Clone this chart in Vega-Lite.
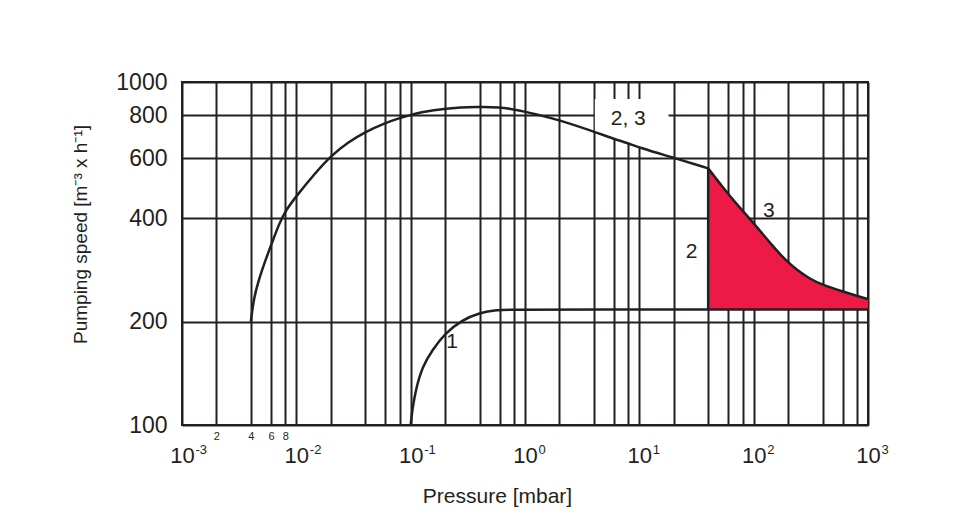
{
  "$schema": "https://vega.github.io/schema/vega-lite/v6.json",
  "width": 686,
  "height": 343,
  "autosize": {"type": "none"},
  "padding": {"left": 182, "top": 82, "right": 94, "bottom": 105},
  "background": "white",
  "config": {
    "font": "Liberation Sans",
    "view": {"stroke": "#231f20", "strokeWidth": 2},
    "axis": {"labelColor": "#231f20", "titleColor": "#231f20", "titleFontWeight": "normal"}
  },
  "resolve": {"axis": {"x": "independent"}},
  "datasets": {
    "curves": [
      {"c": "2", "p": 0.004, "s": 200},
      {"c": "2", "p": 0.00426, "s": 236},
      {"c": "2", "p": 0.00474, "s": 268},
      {"c": "2", "p": 0.00538, "s": 303},
      {"c": "2", "p": 0.00611, "s": 339},
      {"c": "2", "p": 0.00705, "s": 385},
      {"c": "2", "p": 0.00802, "s": 421},
      {"c": "2", "p": 0.01, "s": 465},
      {"c": "2", "p": 0.01437, "s": 539},
      {"c": "2", "p": 0.02, "s": 609},
      {"c": "2", "p": 0.0287, "s": 669},
      {"c": "2", "p": 0.04, "s": 715},
      {"c": "2", "p": 0.06, "s": 760},
      {"c": "2", "p": 0.08, "s": 785},
      {"c": "2", "p": 0.1, "s": 801},
      {"c": "2", "p": 0.118, "s": 814},
      {"c": "2", "p": 0.2, "s": 838},
      {"c": "2", "p": 0.39, "s": 847},
      {"c": "2", "p": 0.6, "s": 844},
      {"c": "2", "p": 0.8, "s": 832},
      {"c": "2", "p": 1, "s": 819},
      {"c": "2", "p": 1.32, "s": 801},
      {"c": "2", "p": 2, "s": 775},
      {"c": "2", "p": 4, "s": 717},
      {"c": "2", "p": 6, "s": 682},
      {"c": "2", "p": 8, "s": 663},
      {"c": "2", "p": 10, "s": 644},
      {"c": "2", "p": 19.4, "s": 603},
      {"c": "2", "p": 40, "s": 560},
      {"c": "3", "p": 40, "s": 560},
      {"c": "3", "p": 54.2, "s": 491},
      {"c": "3", "p": 71.9, "s": 438},
      {"c": "3", "p": 100, "s": 388},
      {"c": "3", "p": 146, "s": 333},
      {"c": "3", "p": 188.6, "s": 303},
      {"c": "3", "p": 239, "s": 283},
      {"c": "3", "p": 309, "s": 267},
      {"c": "3", "p": 391, "s": 257},
      {"c": "3", "p": 600, "s": 245},
      {"c": "3", "p": 869, "s": 236},
      {"c": "3", "p": 1000, "s": 233},
      {"c": "1", "p": 0.1, "s": 100},
      {"c": "1", "p": 0.1033, "s": 110.6},
      {"c": "1", "p": 0.1106, "s": 126.5},
      {"c": "1", "p": 0.1264, "s": 147.9},
      {"c": "1", "p": 0.1547, "s": 165.5},
      {"c": "1", "p": 0.2, "s": 185},
      {"c": "1", "p": 0.2799, "s": 202},
      {"c": "1", "p": 0.4, "s": 212.5},
      {"c": "1", "p": 0.564, "s": 216.5},
      {"c": "1", "p": 0.8, "s": 217},
      {"c": "1", "p": 2, "s": 217},
      {"c": "1", "p": 1000, "s": 217}
    ],
    "red": [
      {"p": 40, "s": 560},
      {"p": 54.2, "s": 491},
      {"p": 71.9, "s": 438},
      {"p": 100, "s": 388},
      {"p": 146, "s": 333},
      {"p": 188.6, "s": 303},
      {"p": 239, "s": 283},
      {"p": 309, "s": 267},
      {"p": 391, "s": 257},
      {"p": 600, "s": 245},
      {"p": 869, "s": 236},
      {"p": 1000, "s": 233}
    ],
    "box": [
      {"p": 4.08, "lo": 715, "hi": 892},
      {"p": 6, "lo": 682, "hi": 892},
      {"p": 8, "lo": 663, "hi": 892},
      {"p": 10, "lo": 644, "hi": 892},
      {"p": 18, "lo": 606, "hi": 892}
    ],
    "labels": [
      {"p": 8, "s": 780, "t": "2, 3"},
      {"p": 0.23, "s": 175, "t": "1"},
      {"p": 28.6, "s": 320, "t": "2"},
      {"p": 136, "s": 420, "t": "3"}
    ],
    "rule2": [{"p": 40, "s": 217, "s2": 560}]
  },
  "layer": [
    {
      "data": {"name": "box"},
      "mark": {"type": "area", "color": "white", "interpolate": "basis"},
      "encoding": {
        "x": {
          "field": "p", "type": "quantitative",
          "scale": {"type": "log", "domain": [0.001, 1000], "nice": false},
          "axis": {
            "orient": "bottom",
            "values": [0.001, 0.002, 0.004, 0.006, 0.008, 0.01, 0.02, 0.04, 0.06, 0.08, 0.1, 0.2, 0.4, 0.6, 0.8, 1, 2, 4, 6, 8, 10, 20, 40, 60, 80, 100, 200, 400, 600, 800, 1000],
            "grid": true, "gridColor": "#231f20", "gridWidth": 2, "gridOpacity": 1,
            "domain": false, "ticks": false,
            "labelOverlap": false, "labelFlush": false, "labelBound": false,
            "labelExpr": "indexof([0.001, 0.01, 0.1, 1, 10, 100, 1000], datum.value) >= 0 ? '10' : datum.value == 0.002 ? '2' : datum.value == 0.004 ? '4' : datum.value == 0.006 ? '6' : datum.value == 0.008 ? '8' : ''",
            "labelFontSize": {"condition": {"test": "datum.value > 0.0015 && datum.value < 0.009", "value": 11}, "value": 22},
            "labelPadding": {"condition": {"test": "datum.value > 0.0015 && datum.value < 0.009", "value": 14}, "value": 37},
            "labelBaseline": "alphabetic",
            "title": "Pressure [mbar]",
            "titleFontSize": 21,
            "titleX": 315, "titleY": 77, "titleBaseline": "alphabetic", "titleAlign": "center"
          }
        },
        "y": {
          "field": "lo", "type": "quantitative",
          "scale": {"type": "log", "domain": [100, 1000], "nice": false},
          "axis": {
            "values": [100, 200, 400, 600, 800, 1000],
            "format": "d",
            "grid": true, "gridColor": "#231f20", "gridWidth": 2, "gridOpacity": 1,
            "domain": false, "ticks": false,
            "labelFontSize": 23, "labelPadding": 15,
            "labelOverlap": false, "labelFlush": false, "labelBound": false,
            "title": "Pumping speed [m⁻³ x h⁻¹]",
            "titleFontSize": 19,
            "titleX": -102, "titleY": 152, "titleBaseline": "middle", "titleAlign": "center"
          }
        },
        "y2": {"field": "hi"}
      }
    },
    {
      "data": {"name": "red"},
      "mark": {"type": "area", "color": "#ED1A46", "interpolate": "basis"},
      "encoding": {
        "x": {"field": "p", "type": "quantitative", "axis": null},
        "y": {"field": "s", "type": "quantitative"},
        "y2": {"datum": 217}
      }
    },
    {
      "data": {"name": "rule2"},
      "mark": {"type": "rule", "color": "#231f20", "strokeWidth": 2.5},
      "encoding": {
        "x": {"field": "p", "type": "quantitative", "axis": null},
        "y": {"field": "s", "type": "quantitative"},
        "y2": {"field": "s2"}
      }
    },
    {
      "data": {"name": "curves"},
      "mark": {"type": "line", "color": "#231f20", "strokeWidth": 2.5, "interpolate": "basis", "strokeJoin": "round"},
      "encoding": {
        "x": {"field": "p", "type": "quantitative", "axis": null},
        "y": {"field": "s", "type": "quantitative"},
        "detail": {"field": "c"}
      }
    },
    {
      "data": {"name": "labels"},
      "mark": {"type": "text", "color": "#231f20", "fontSize": 21, "align": "center", "baseline": "middle"},
      "encoding": {
        "x": {
          "field": "p", "type": "quantitative",
          "axis": {
            "orient": "bottom",
            "values": [0.001, 0.01, 0.1, 1, 10, 100, 1000],
            "grid": false, "domain": false, "ticks": false,
            "labelOverlap": false, "labelFlush": false, "labelBound": false,
            "labelExpr": "datum.value == 0.001 ? '-3' : datum.value == 0.01 ? '-2' : datum.value == 0.1 ? '-1' : datum.value == 1 ? '0' : datum.value == 10 ? '1' : datum.value == 100 ? '2' : '3'",
            "labelFontSize": 13,
            "labelAlign": "left",
            "labelOffset": 13,
            "labelPadding": 28,
            "labelBaseline": "alphabetic",
            "title": null
          }
        },
        "y": {"field": "s", "type": "quantitative"},
        "text": {"field": "t"}
      }
    }
  ]
}
